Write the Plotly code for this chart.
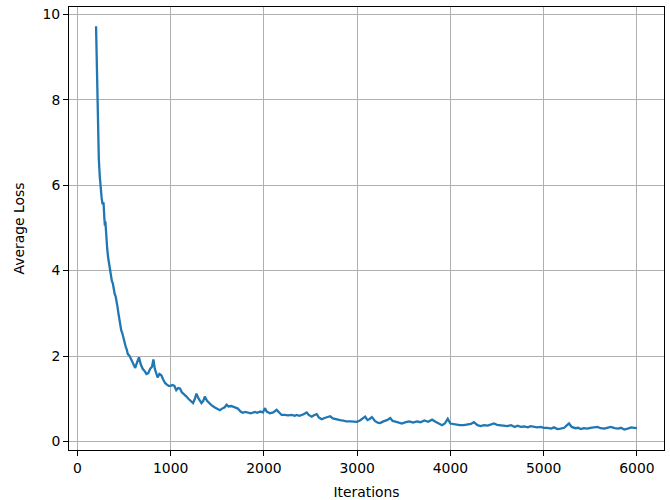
import plotly.graph_objects as go

iterations = [
    200, 210, 220, 230, 240, 250, 260, 270, 280, 290, 295, 300, 310, 320, 330, 340, 350, 360, 370, 380,
    390, 400, 410, 420, 430, 440, 450, 460, 470, 480, 490, 500, 510, 520, 530, 540, 560, 580, 600, 620,
    640, 660, 680, 700, 720, 740, 760, 780, 800, 815, 830, 850, 860, 880, 900, 920, 940, 960, 980, 1000,
    1020, 1040, 1060, 1080, 1100, 1120, 1150, 1170, 1190, 1210, 1240, 1260, 1276, 1300, 1330, 1350, 1366, 1390, 1410, 1437,
    1470, 1500, 1527, 1560, 1580, 1600, 1620, 1650, 1688, 1720, 1750, 1774, 1800, 1830, 1860, 1903, 1930, 1960, 1990, 2010,
    2030, 2065, 2100, 2136, 2160, 2190, 2220, 2260, 2300, 2330, 2351, 2380, 2420, 2459, 2480, 2513, 2540, 2566, 2590, 2620,
    2650, 2680, 2710, 2740, 2770, 2817, 2850, 2880, 2925, 2960, 2996, 3030, 3060, 3086, 3110, 3130, 3158, 3190, 3220, 3247,
    3280, 3320, 3355, 3380, 3420, 3450, 3480, 3520, 3560, 3600, 3642, 3680, 3720, 3760, 3803, 3840, 3880, 3910, 3940, 3971,
    4000, 4036, 4070, 4100, 4143, 4180, 4220, 4251, 4290, 4323, 4360, 4400, 4430, 4466, 4500, 4540, 4570, 4609, 4650, 4690,
    4720, 4753, 4790, 4830, 4860, 4896, 4930, 4970, 5000, 5039, 5080, 5110, 5147, 5180, 5220, 5250, 5272, 5300, 5340, 5370,
    5398, 5430, 5470, 5500, 5540, 5577, 5610, 5650, 5680, 5720, 5760, 5800, 5828, 5864, 5900, 5940, 5970, 6000,
]
avg_loss = [
    9.72, 8.6, 7.5, 6.6, 6.2, 5.85, 5.7, 5.55, 5.6, 5.2, 5.05, 5.15, 4.75, 4.5, 4.3, 4.15, 4.0, 3.9, 3.75, 3.7,
    3.55, 3.45, 3.4, 3.3, 3.15, 3.0, 2.85, 2.7, 2.6, 2.55, 2.45, 2.35, 2.25, 2.2, 2.15, 2.05, 2.0, 1.9, 1.8, 1.72,
    1.85, 1.97, 1.8, 1.7, 1.65, 1.58, 1.6, 1.7, 1.75, 1.92, 1.7, 1.55, 1.5, 1.58, 1.55, 1.45, 1.37, 1.33, 1.3, 1.3,
    1.32, 1.3, 1.2, 1.25, 1.24, 1.15, 1.1, 1.05, 1.0, 0.95, 0.9, 1.0, 1.12, 1.0, 0.9, 0.95, 1.05, 0.95, 0.9, 0.85,
    0.8, 0.77, 0.73, 0.78, 0.8, 0.86, 0.82, 0.83, 0.8, 0.77, 0.7, 0.67, 0.69, 0.68, 0.66, 0.69, 0.67, 0.7, 0.68, 0.78,
    0.7, 0.66, 0.68, 0.74, 0.68, 0.62, 0.62, 0.61, 0.62, 0.6, 0.62, 0.6, 0.63, 0.68, 0.62, 0.58, 0.62, 0.64, 0.56, 0.52,
    0.55, 0.57, 0.59, 0.54, 0.52, 0.5, 0.49, 0.47, 0.47, 0.46, 0.46, 0.49, 0.53, 0.58, 0.5, 0.52, 0.57, 0.48, 0.44, 0.43,
    0.47, 0.5, 0.55, 0.48, 0.46, 0.44, 0.42, 0.45, 0.47, 0.44, 0.47, 0.45, 0.49, 0.46, 0.51, 0.46, 0.41, 0.38, 0.42, 0.53,
    0.42, 0.4, 0.39, 0.38, 0.38, 0.4, 0.41, 0.45, 0.38, 0.36, 0.38, 0.37, 0.4, 0.42, 0.39, 0.38, 0.37, 0.36, 0.38, 0.34,
    0.37, 0.34, 0.35, 0.33, 0.36, 0.34, 0.33, 0.34, 0.32, 0.32, 0.3, 0.33, 0.29, 0.3, 0.32, 0.38, 0.42, 0.34, 0.31, 0.32,
    0.29, 0.31, 0.3, 0.32, 0.33, 0.34, 0.31, 0.3, 0.32, 0.34, 0.31, 0.3, 0.32, 0.28, 0.3, 0.33, 0.32, 0.31,
]

x_ticks = [0, 1000, 2000, 3000, 4000, 5000, 6000]
y_ticks = [0, 2, 4, 6, 8, 10]

font = dict(family="DejaVu Sans", size=13.9, color="#000000")

fig = go.Figure()
fig.add_trace(go.Scatter(
    x=iterations, y=avg_loss, mode="lines",
    line=dict(color="#1f77b4", width=2.3),
    showlegend=False,
))

axis_common = dict(
    showgrid=True, gridcolor="#b0b0b0", gridwidth=1,
    showline=True, linecolor="#000000", linewidth=1, mirror=True,
    ticks="outside", ticklen=5, tickwidth=1, tickcolor="#000000",
    zeroline=False, tickfont=font, automargin=False,
)

fig.update_layout(
    width=670, height=500,
    margin=dict(l=69, r=6, t=7, b=50),
    paper_bgcolor="white", plot_bgcolor="white",
    font=font,
    xaxis=dict(range=[-90, 6290], tickvals=x_ticks, ticktext=[str(v) for v in x_ticks],
               title=dict(text="Iterations", font=font, standoff=12), **axis_common),
    yaxis=dict(range=[-0.2, 10.17], tickvals=y_ticks, ticktext=[str(v) for v in y_ticks],
               title=dict(text="Average Loss", font=font, standoff=14), **axis_common),
)

fig.write_html("out.html", config={"displayModeBar": False},
               post_script="document.body.style.margin='0';document.body.style.overflow='hidden';")
